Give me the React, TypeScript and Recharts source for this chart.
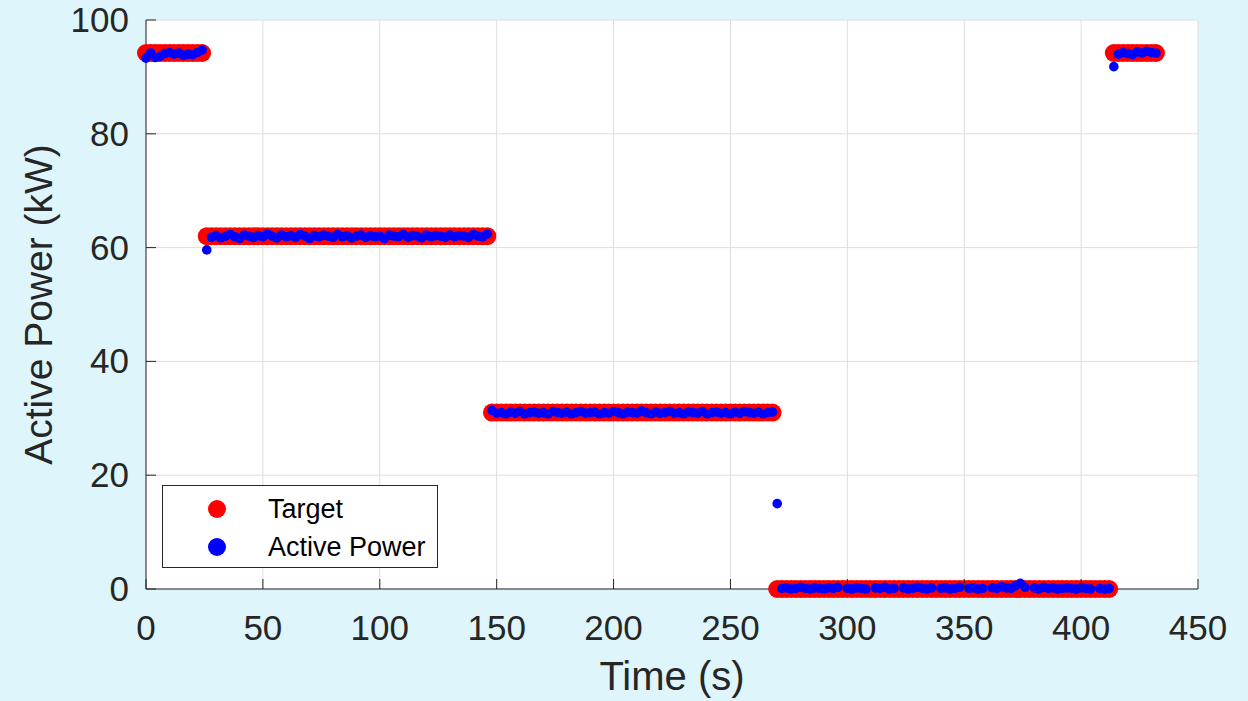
import { CartesianGrid, Legend, Scatter, ScatterChart, XAxis, YAxis } from "recharts"

// sample times (s), one reading every 2 s
const time = [
  0, 2, 4, 6, 8, 10, 12, 14, 16, 18, 20, 22, 24,
  26, 28, 30, 32, 34, 36, 38, 40, 42, 44, 46, 48, 50, 52, 54, 56, 58, 60, 62, 64, 66, 68, 70, 72, 74, 76, 78, 80,
  82, 84, 86, 88, 90, 92, 94, 96, 98, 100, 102, 104, 106, 108, 110, 112, 114, 116, 118, 120, 122, 124, 126, 128,
  130, 132, 134, 136, 138, 140, 142, 144, 146,
  148, 150, 152, 154, 156, 158, 160, 162, 164, 166, 168, 170, 172, 174, 176, 178, 180, 182, 184, 186, 188, 190,
  192, 194, 196, 198, 200, 202, 204, 206, 208, 210, 212, 214, 216, 218, 220, 222, 224, 226, 228, 230, 232, 234,
  236, 238, 240, 242, 244, 246, 248, 250, 252, 254, 256, 258, 260, 262, 264, 266, 268,
  270, 272, 274, 276, 278, 280, 282, 284, 286, 288, 290, 292, 294, 296, 298, 300, 302, 304, 306, 308, 310, 312,
  314, 316, 318, 320, 322, 324, 326, 328, 330, 332, 334, 336, 338, 340, 342, 344, 346, 348, 350, 352, 354, 356,
  358, 360, 362, 364, 366, 368, 370, 372, 374, 376, 378, 380, 382, 384, 386, 388, 390, 392, 394, 396, 398, 400,
  402, 404, 406, 408, 410, 412,
  414, 416, 418, 420, 422, 424, 426, 428, 430, 432,
]

// target set-point schedule: level held from each start time
const targetStart = [0, 26, 148, 270, 414]
const targetLevel = [94.2, 62, 31, 0, 94.2]

// measured active power, null = no reading
const power = [
  93.3, 94.2, 93.4, 93.6, 94.1, 94.3, 94.0, 94.2, 93.8, 94.0, 93.9, 94.3, 94.7,

  59.6, 61.8, 62.1, 61.7, 62.0, 62.3, 61.9, 61.6, 62.2, 62.0,
  61.8, 62.1, 61.9, 62.4, 62.0, 61.7, 62.2, 61.9, 62.1, 61.8,
  62.3, 62.0, 61.6, 62.1, 61.9, 62.2, 62.0, 61.8, 62.3, 61.9,
  62.1, 61.7, 62.0, 62.2, 61.8, 62.1, 61.9, 62.0, 61.6, 62.2,
  62.0, 61.9, 62.3, 61.8, 62.1, 62.0, 61.7, 62.2, 61.9, 62.1,
  62.0, 61.8, 62.2, 61.9, 62.1, 62.0, 61.8, 62.3, 62.0, 61.9,
  62.4,

  31.4, 30.9, 31.0, 30.8, 31.1, 30.9, 31.2, 30.8, 31.0, 31.1,
  30.9, 31.0, 30.8, 31.2, 31.0, 30.9, 31.1, 30.8, 31.0, 31.2,
  30.9, 31.0, 31.1, 30.8, 31.0, 30.9, 31.2, 31.0, 30.8, 31.1,
  31.0, 30.9, 31.3, 31.0, 30.8, 31.1, 30.9, 31.0, 31.2, 30.9,
  31.0, 30.8, 31.1, 31.0, 30.9, 31.2, 30.8, 31.0, 31.1, 30.9,
  31.0, 30.8, 31.1, 30.9, 31.2, 31.0, 30.9, 31.1, 30.8, 31.0,
  31.1,

  15.0, 0.1, 0.2, 0.0, 0.1, 0.3, 0.1, 0.0, 0.2, 0.1,
  0.0, 0.2, 0.1, 0.3, null, 0.1, 0.0, 0.2, 0.1, 0.0,
  null, 0.2, 0.1, 0.3, 0.0, 0.1, null, 0.2, 0.0, 0.1,
  0.3, 0.1, 0.0, 0.2, null, 0.1, 0.2, 0.0, 0.1, 0.3,
  null, 0.1, 0.2, 0.0, 0.1, null, 0.2, 0.1, 0.4, 0.2,
  0.1, 0.6, 1.0, 0.3, null, 0.2, 0.0, 0.3, 0.1, 0.2,
  0.0, 0.1, 0.2, 0.1, 0.0, 0.2, 0.1, 0.0, null, 0.1,
  0.0, 0.1,

  91.8, 94.0, 94.3, 94.1, 93.9, 94.4, 94.2, 94.5, 94.3, 94.2,
]

const xTicks = [0, 50, 100, 150, 200, 250, 300, 350, 400, 450]
const yTicks = [0, 20, 40, 60, 80, 100]

const seriesNames = ["Target", "Active Power"]
const seriesColors = ["#ff0000", "#0000ff"]

const targetAt = (t: number) => {
  let level = targetLevel[0]
  targetStart.forEach((s, i) => {
    if (t >= s) level = targetLevel[i]
  })
  return level
}

const targetData = time.map((t) => ({ t, v: targetAt(t) }))
const powerData = time.map((t, i) => ({ t, v: power[i] })).filter((d) => d.v !== null)

const axisColor = "#262626"
const font = '"Liberation Sans", Arial, Helvetica, sans-serif'

function XTick(props: any) {
  const { x, y, payload } = props
  return (
    <g>
      <line x1={x} x2={x} y1={y} y2={y - 10} stroke={axisColor} />
      <text x={x} y={y + 51} textAnchor="middle" fontSize={35} fill={axisColor} fontFamily={font}>
        {payload.value}
      </text>
    </g>
  )
}

function YTick(props: any) {
  const { x, y, payload } = props
  return (
    <g>
      <line x1={x} x2={x + 10} y1={y} y2={y} stroke={axisColor} />
      <text x={x - 17} y={y + 12} textAnchor="end" fontSize={35} fill={axisColor} fontFamily={font}>
        {payload.value}
      </text>
    </g>
  )
}

function LegendBox() {
  return (
    <svg width={276} height={83} style={{ display: "block" }}>
      <rect x={0.5} y={0.5} width={275} height={82} fill="#ffffff" stroke={axisColor} />
      {seriesNames.map((name, i) => (
        <g key={name}>
          <circle cx={55} cy={24 + i * 38} r={9} fill={seriesColors[i]} />
          <text x={106} y={33 + i * 38} fontSize={27} fill="#000000" fontFamily={font}>
            {name}
          </text>
        </g>
      ))}
    </svg>
  )
}

export default function App() {
  return (
    <div
      style={{
        position: "absolute",
        left: 0,
        top: 0,
        width: 1248,
        height: 701,
        background: "#ddf5fb",
        fontFamily: font,
      }}
    >
      <ScatterChart width={1248} height={701} margin={{ top: 20, right: 50, bottom: 0, left: 0 }}>
        <CartesianGrid stroke="#dedede" fill="#ffffff" />
        <XAxis
          type="number"
          dataKey="t"
          domain={[0, 450]}
          ticks={xTicks}
          interval={0}
          height={112}
          tickSize={0}
          tickMargin={0}
          tickLine={false}
          axisLine={{ stroke: axisColor }}
          tick={<XTick />}
          label={{ value: "Time (s)", position: "insideBottom", offset: 11, fontSize: 40, fill: axisColor }}
        />
        <XAxis
          xAxisId="top"
          orientation="top"
          type="number"
          domain={[0, 450]}
          height={0}
          tick={false}
          tickLine={false}
          axisLine={{ stroke: axisColor }}
        />
        <YAxis
          type="number"
          dataKey="v"
          domain={[0, 100]}
          ticks={yTicks}
          interval={0}
          width={146}
          tickSize={0}
          tickMargin={0}
          tickLine={false}
          axisLine={{ stroke: axisColor }}
          tick={<YTick />}
          label={{
            value: "Active Power (kW)",
            angle: -90,
            position: "insideLeft",
            offset: 38,
            fontSize: 39,
            fill: axisColor,
            style: { textAnchor: "middle" },
          }}
        />
        <Legend
          layout="horizontal"
          verticalAlign="middle"
          align="center"
          content={<LegendBox />}
          wrapperStyle={{ left: 162, top: 485, width: 276, height: 83 }}
        />
        <Scatter
          name={seriesNames[0]}
          data={targetData}
          fill={seriesColors[0]}
          isAnimationActive={false}
          shape={(p: any) => <circle cx={p.cx} cy={p.cy} r={9} fill={seriesColors[0]} />}
        />
        <Scatter
          name={seriesNames[1]}
          data={powerData}
          fill={seriesColors[1]}
          isAnimationActive={false}
          shape={(p: any) => <circle cx={p.cx} cy={p.cy} r={4.8} fill={seriesColors[1]} />}
        />
      </ScatterChart>
    </div>
  )
}
